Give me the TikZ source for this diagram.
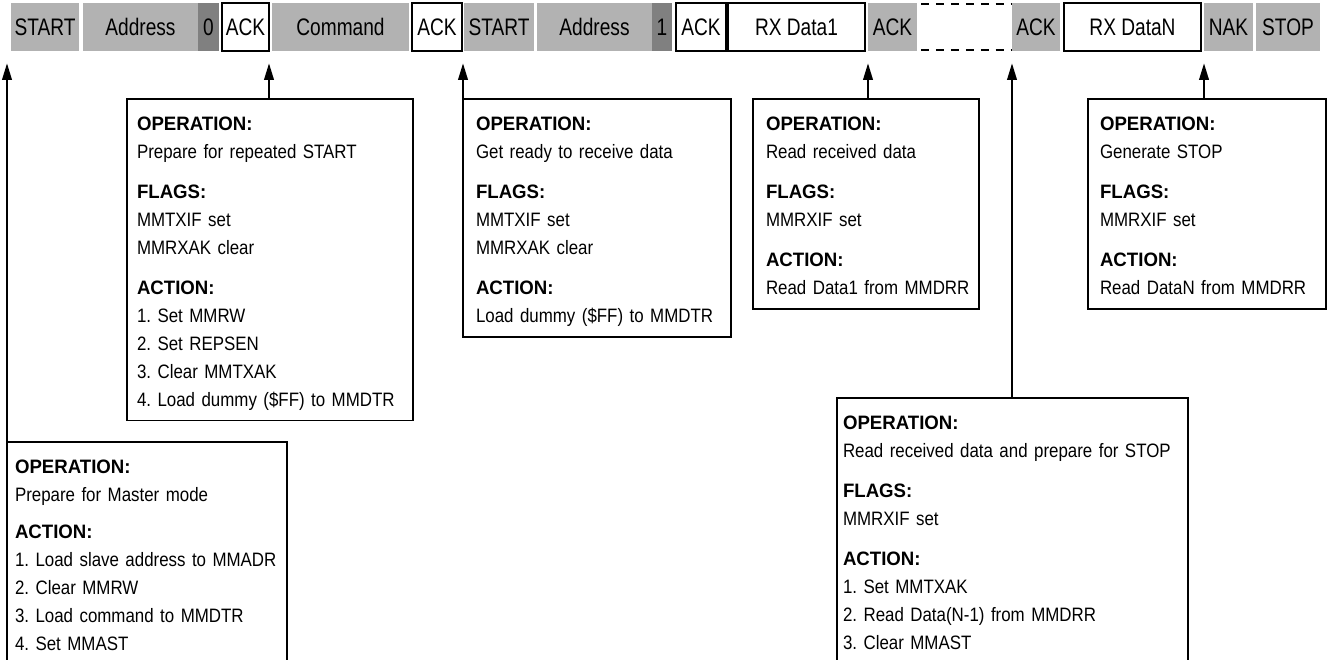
\documentclass[tikz,border=0pt]{standalone}
\usepackage{fontspec}
\setmainfont{Liberation Sans}[FakeStretch=0.87, BoldFeatures={FakeStretch=0.96}]
\newfontfamily\barfont{Liberation Sans}[FakeStretch=0.8]
\usetikzlibrary{arrows.meta}
\definecolor{segGray}{gray}{0.7}
\definecolor{bitGray}{gray}{0.5}
\newcommand{\pw}{0.02cm}
\newcommand{\gp}{6.8pt}
\newcommand{\firsthd}[1]{\rule{0pt}{14.7pt}\textbf{#1}}
\newcommand{\oplines}[1]{\begin{tabular}{@{}l@{}}#1\end{tabular}}
\frenchspacing

\tikzset{
  seg/.style={inner sep=0pt, outer sep=0pt, anchor=north west, minimum height=48*\pw,
    font=\barfont\fontsize{13.6pt}{16pt}\selectfont},
  gseg/.style={seg, fill=segGray},
  bseg/.style={seg, fill=bitGray},
  wseg/.style={seg, draw, line width=1.1pt, fill=white},
  opbox/.style={draw, line width=1.1pt, anchor=north west, align=left, outer sep=0pt,
    inner ysep=3.4pt, font=\fontsize{11.05pt}{15.9pt}\selectfont},
  arr/.style={-{Triangle[length=9.5pt,width=5.5pt]}, line width=1.1pt, shorten >=7pt},
  gapline/.style={line width=1.1pt, dash pattern=on 4.5pt off 4pt}
}

\begin{document}
\begin{tikzpicture}[x=\pw, y=-\pw]
\useasboundingbox (0,0) rectangle (1327,659);
\clip (0,0) rectangle (1327,659);

% top bar
\node[gseg, minimum width=68*\pw]  (start1) at (11,3)   {START};
\node[gseg, minimum width=115*\pw] (addr1)  at (83,3)   {Address};
\node[bseg, minimum width=21*\pw]  (rw0)    at (198,3)  {0};
\node[wseg, minimum width=47*\pw]  (ack1)   at (222,3)  {ACK};
\node[gseg, minimum width=137*\pw] (cmd)    at (272,3)  {Command};
\node[wseg, minimum width=50*\pw]  (ack2)   at (412,3)  {ACK};
\node[gseg, minimum width=70*\pw]  (start2) at (464,3)  {START};
\node[gseg, minimum width=115*\pw] (addr2)  at (537,3)  {Address};
\node[bseg, minimum width=20*\pw]  (rw1)    at (652,3)  {1};
\node[wseg, minimum width=50*\pw]  (ack3)   at (676,3)  {ACK};
\node[wseg, minimum width=137*\pw] (rxd1)   at (728,3)  {RX Data1};
\node[gseg, minimum width=49*\pw]  (ack4)   at (868,3)  {ACK};
\node[gseg, minimum width=48*\pw]  (ack5)   at (1012,3) {ACK};
\node[wseg, minimum width=137*\pw] (rxdn)   at (1064,3) {RX DataN};
\node[gseg, minimum width=49*\pw]  (nak)    at (1204,3) {NAK};
\node[gseg, minimum width=64*\pw]  (stop)   at (1256,3) {STOP};
% gap between data bytes
\draw[gapline] ([xshift=4*\pw, yshift=-1*\pw]ack4.north east) -- ([yshift=-1*\pw]ack5.north west);
\draw[gapline] ([xshift=4*\pw, yshift=1*\pw]ack4.south east) -- ([yshift=1*\pw]ack5.south west);

% operation boxes
\node[opbox, text width=264*\pw, inner xsep=8*\pw] (b1) at (7,442) {\oplines{%
  \firsthd{OPERATION:}\\
  Prepare for Master mode\\[5pt]
  \textbf{ACTION:}\\
  1. Load slave address to MMADR\\
  2. Clear MMRW\\
  3. Load command to MMDTR\\
  4. Set MMAST}};
\node[opbox, text width=266*\pw, inner xsep=10*\pw, minimum height=318*\pw] (b2) at (127,99) {\oplines{%
  \firsthd{OPERATION:}\\
  Prepare for repeated START\\[\gp]
  \textbf{FLAGS:}\\
  MMTXIF set\\
  MMRXAK clear\\[\gp]
  \textbf{ACTION:}\\
  1. Set MMRW\\
  2. Set REPSEN\\
  3. Clear MMTXAK\\
  4. Load dummy (\$FF) to MMDTR}};
\node[opbox, text width=242*\pw, inner xsep=13*\pw, minimum height=236*\pw] (b3) at (463,99) {\oplines{%
  \firsthd{OPERATION:}\\
  Get ready to receive data\\[\gp]
  \textbf{FLAGS:}\\
  MMTXIF set\\
  MMRXAK clear\\[\gp]
  \textbf{ACTION:}\\
  Load dummy (\$FF) to MMDTR}};
\node[opbox, text width=200*\pw, inner xsep=13*\pw, minimum height=203*\pw] (b4) at (753,99) {\oplines{%
  \firsthd{OPERATION:}\\
  Read received data\\[\gp]
  \textbf{FLAGS:}\\
  MMRXIF set\\[\gp]
  \textbf{ACTION:}\\
  Read Data1 from MMDRR}};
\node[opbox, text width=339*\pw, inner xsep=6*\pw] (b5) at (837,398) {\oplines{%
  \firsthd{OPERATION:}\\
  Read received data and prepare for STOP\\[\gp]
  \textbf{FLAGS:}\\
  MMRXIF set\\[\gp]
  \textbf{ACTION:}\\
  1. Set MMTXAK\\
  2. Read Data(N-1) from MMDRR\\
  3. Clear MMAST}};
\node[opbox, text width=214*\pw, inner xsep=12*\pw, minimum height=198*\pw] (b6) at (1088,99) {\oplines{%
  \firsthd{OPERATION:}\\
  Generate STOP\\[\gp]
  \textbf{FLAGS:}\\
  MMRXIF set\\[\gp]
  \textbf{ACTION:}\\
  Read DataN from MMDRR}};

% arrows up to the bar
\draw[arr] (b1.north west) -- (b1.north west |- start1.south);
\draw[arr] (ack1.south east |- b2.north) -- (ack1.south east);
\draw[arr] (b3.north west) -- (b3.north west |- start2.south);
\draw[arr] (ack4.south west |- b4.north) -- (ack4.south west);
\draw[arr] (ack5.south west |- b5.north) -- (ack5.south west);
\draw[arr] (nak.south west |- b6.north) -- (nak.south west);
\end{tikzpicture}
\end{document}
